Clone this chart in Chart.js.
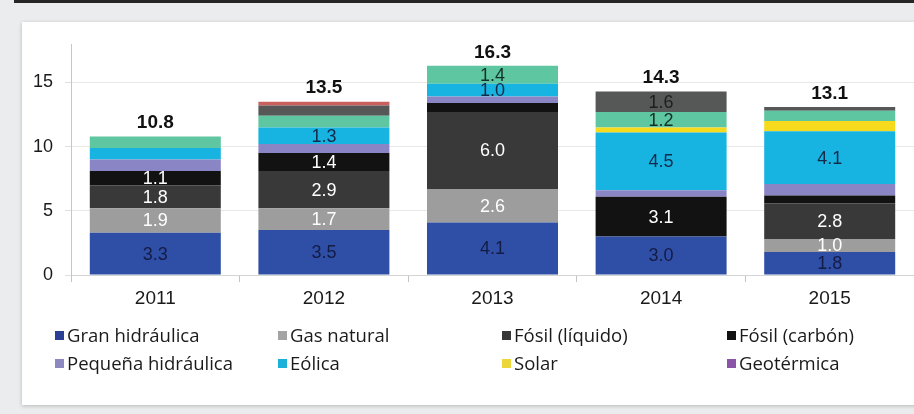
<!DOCTYPE html>
<html>
<head>
<meta charset="utf-8">
<script src="https://cdn.jsdelivr.net/npm/chart.js@4.4.1/dist/chart.umd.min.js"></script>
<style>
  body { margin: 0; width: 914px; height: 414px; overflow: hidden; background: #eaeced; position: relative; }
  .topline { position: absolute; left: 14px; top: 0; width: 900px; height: 3px; background: #262626; }
  .panel { position: absolute; left: 22px; top: 22px; width: 900px; height: 383px; background: #fff;
           box-shadow: 0 1px 4px rgba(0,0,0,0.22); }
  #wrap { position: absolute; left: 0; top: 0; width: 914px; height: 414px; }
  .leg { position: absolute; font-family: "Open Sans", sans-serif; font-size: 18.5px; color: #1a1a1a;
         white-space: nowrap; line-height: 20px; }
  .leg i { position: absolute; left: 0; top: 6px; width: 9px; height: 9px; }
  .leg span { position: absolute; left: 12px; top: 0; }
</style>
</head>
<body>
<div class="topline"></div>
<div class="panel"></div>
<div id="wrap"><canvas id="chart" width="914" height="414"></canvas></div>
<div id="legend"></div>
<script>
// categories
const years = ['2011', '2012', '2013', '2014', '2015'];

// series values (stack order, bottom to top)
const granHidraulica    = [3.3, 3.5, 4.1, 3.0, 1.8];
const gasNatural        = [1.9, 1.7, 2.6, 0.0, 1.0];
const fosilLiquido      = [1.8, 2.9, 6.0, 0.0, 2.8];
const fosilCarbon       = [1.1, 1.4, 0.7, 3.1, 0.6];
const pequenaHidraulica = [0.9, 0.7, 0.5, 0.5, 0.9];
const eolica            = [0.9, 1.3, 1.0, 4.5, 4.1];
const solar             = [0.0, 0.0, 0.0, 0.4, 0.8];
const geotermica        = [0.0, 0.0, 0.0, 0.0, 0.0];
// series drawn in the bars but not listed in the visible legend
const biomasa           = [0.9, 0.9, 1.4, 1.2, 0.8];
const otrosFosil        = [0.0, 0.8, 0.0, 1.6, 0.3];
const otros             = [0.0, 0.3, 0.0, 0.0, 0.0];

// y axis tick labels
const yTicks = [0, 5, 10, 15];

const series = [
  { label: 'Gran hidráulica',    data: granHidraulica,    color: '#2f4fa6', text: '#141b45', legend: '#2b3f95' },
  { label: 'Gas natural',        data: gasNatural,        color: '#9d9d9d', text: '#ffffff', legend: '#a3a3a3' },
  { label: 'Fósil (líquido)',    data: fosilLiquido,      color: '#393939', text: '#ffffff', legend: '#363636' },
  { label: 'Fósil (carbón)',     data: fosilCarbon,       color: '#121212', text: '#ffffff', legend: '#111111' },
  { label: 'Pequeña hidráulica', data: pequenaHidraulica, color: '#8a86c6', text: '#1e1e1e', legend: '#8c88c0' },
  { label: 'Eólica',             data: eolica,            color: '#17b4e2', text: '#142a4a', legend: '#1ab0d8' },
  { label: 'Solar',              data: solar,             color: '#f6da1e', text: '#1e1e1e', legend: '#ecd63a' },
  { label: 'Geotérmica',         data: geotermica,        color: '#7e4ea2', text: '#ffffff', legend: '#8a55a8' },
  { label: 'Biomasa',            data: biomasa,           color: '#5ec6a0', text: '#14302a', legend: null },
  { label: 'Otros fósiles',      data: otrosFosil,        color: '#565757', text: '#1e1e1e', legend: null },
  { label: 'Otros',              data: otros,             color: '#c8605e', text: '#1e1e1e', legend: null }
];

// legend layout: 4 columns, 2 rows
const legendCols = [55, 278, 502, 727];
const legendRows = [325, 353];
const legendDiv = document.getElementById('legend');
series.filter(s => s.legend).forEach((s, i) => {
  const el = document.createElement('div');
  el.className = 'leg';
  el.style.left = legendCols[i % 4] + 'px';
  el.style.top = legendRows[Math.floor(i / 4)] + 'px';
  el.innerHTML = '<i style="background:' + s.legend + '"></i><span>' + s.label + '</span>';
  legendDiv.appendChild(el);
});

// segment values and totals
const valueLabels = {
  id: 'valueLabels',
  afterDatasetsDraw(chart) {
    const ctx = chart.ctx;
    ctx.save();
    ctx.textAlign = 'center';
    ctx.textBaseline = 'middle';
    ctx.font = '18px "Liberation Sans", Arial, sans-serif';
    chart.data.datasets.forEach((ds, di) => {
      const meta = chart.getDatasetMeta(di);
      meta.data.forEach((bar, i) => {
        const v = ds.data[i];
        if (v < 1.0) return;
        ctx.fillStyle = series[di].text;
        ctx.fillText(v.toFixed(1), bar.x, (bar.y + bar.base) / 2 + 1);
      });
    });
    // totals above each bar
    ctx.font = 'bold 19px "Liberation Sans", Arial, sans-serif';
    ctx.fillStyle = '#111';
    ctx.textBaseline = 'bottom';
    years.forEach((y, i) => {
      let total = 0;
      series.forEach(s => { total += s.data[i]; });
      const x = chart.getDatasetMeta(0).data[i].x;
      const top = chart.scales.y.getPixelForValue(total);
      ctx.fillText(total.toFixed(1), x, top - 4);
    });
    ctx.restore();
  }
};

const chart = new Chart(document.getElementById('chart'), {
  type: 'bar',
  data: {
    labels: years,
    datasets: series.map(s => ({
      label: s.label,
      data: s.data,
      backgroundColor: s.color,
      borderWidth: 0,
      categoryPercentage: 1.0,
      barPercentage: 0.777
    }))
  },
  options: {
    responsive: false,
    animation: false,
    layout: { padding: { left: 0, right: 0, top: 44, bottom: 0 } },
    plugins: {
      legend: { display: false },
      tooltip: { enabled: false }
    },
    scales: {
      x: {
        stacked: true,
        grid: { display: true, drawOnChartArea: false, tickLength: 7, tickColor: '#c4c4c4', offset: true },
        border: { color: '#d4d4d4' },
        ticks: { color: '#1a1a1a', padding: 5, font: { family: '"Liberation Sans", Arial, sans-serif', size: 19 } },
        afterFit(scale) { scale.height = 139; }
      },
      y: {
        stacked: true,
        min: 0,
        max: 18,
        ticks: { stepSize: 5, color: '#1a1a1a', padding: 12, font: { family: '"Liberation Sans", Arial, sans-serif', size: 18 } },
        afterBuildTicks(scale) { scale.ticks = yTicks.map(v => ({ value: v })); },
        grid: { color: '#e8e8e8', tickColor: '#e0e0e0', tickLength: 6 },
        border: { color: '#c6c6c6' },
        afterFit(scale) { scale.width = 71; }
      }
    }
  },
  plugins: [valueLabels]
});
</script>
</body>
</html>
